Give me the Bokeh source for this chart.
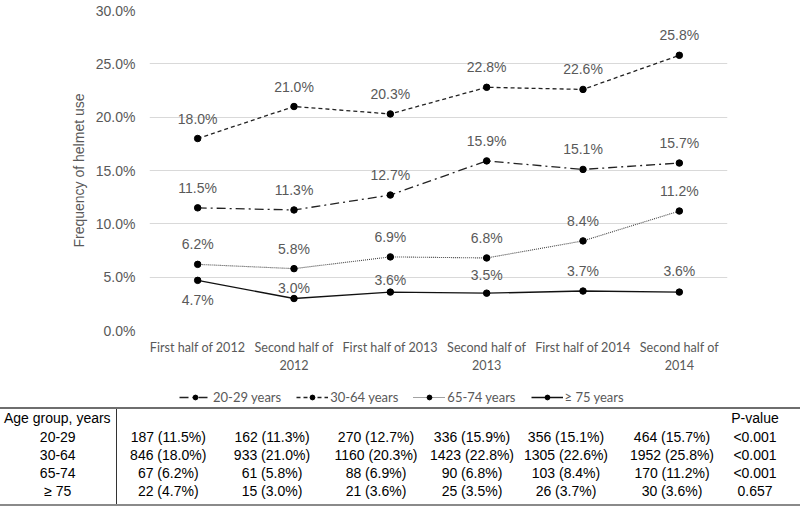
from bokeh.plotting import figure
from bokeh.models import (ColumnDataSource, Range1d, FactorRange, Legend, LegendItem,
                          PrintfTickFormatter, FixedTicker, Div)
from bokeh.layouts import column
from bokeh.embed import file_html
from bokeh.resources import INLINE
from bokeh.core.properties import value

# ---------------- data ----------------
periods = ["First half of 2012", "Second half of 2012", "First half of 2013",
           "Second half of 2013", "First half of 2014", "Second half of 2014"]
tick_line1 = ["First half of 2012", "Second half of", "First half of 2013",
              "Second half of", "First half of 2014", "Second half of"]
tick_line2 = ["", "2012", " ", "2013", "  ", "2014"]
groups = ["20-29", "30-64", "65-74", "≥ 75"]
legend_labels = ["20-29 years", "30-64 years", "65-74 years", "≥ 75 years"]

pct_20_29 = [11.5, 11.3, 12.7, 15.9, 15.1, 15.7]
pct_30_64 = [18.0, 21.0, 20.3, 22.8, 22.6, 25.8]
pct_65_74 = [6.2, 5.8, 6.9, 6.8, 8.4, 11.2]
pct_75 = [4.7, 3.0, 3.6, 3.5, 3.7, 3.6]

n_20_29 = [187, 162, 270, 336, 356, 464]
n_30_64 = [846, 933, 1160, 1423, 1305, 1952]
n_65_74 = [67, 61, 88, 90, 103, 170]
n_75 = [22, 15, 21, 25, 26, 30]

p_values = ["<0.001", "<0.001", "<0.001", "0.657"]
y_ticks = [0, 5, 10, 15, 20, 25, 30]

# ---------------- styles ----------------
GREY = "#595959"
W = 800
H1, H2, H3 = 384, 23, 106          # chart, legend strip, table
ML, MR, MT, FB = 149, 73, 10, 330  # frame margins / frame bottom (px)
MARKER = 6.5
line_styles = [
    dict(line_dash="9 4 2 4", line_color="#222222", line_width=1.3),
    dict(line_dash="4 3", line_color="#222222", line_width=1.3),
    dict(line_dash="1 1", line_color="#444444", line_width=1.1),
    dict(line_dash="solid", line_color="#111111", line_width=1.4),
]
label_offsets = [
    [-20] * 6,
    [-20] * 6,
    [-20] * 6,
    [20, -11, -12, -18, -20, -21],
]

all_pct = [pct_20_29, pct_30_64, pct_65_74, pct_75]
all_n = [n_20_29, n_30_64, n_65_74, n_75]
xf = list(zip(tick_line2, tick_line1))

# ---------------- chart ----------------
p = figure(width=W, height=H1,
           x_range=FactorRange(*xf, group_padding=0, factor_padding=0),
           y_range=Range1d(0, 30),
           output_backend="svg", toolbar_location=None,
           min_border_left=ML, min_border_right=MR, min_border_top=MT,
           min_border_bottom=H1 - FB)
p.outline_line_color = None
p.xgrid.grid_line_color = None
p.ygrid.grid_line_color = "#d9d9d9"
p.ygrid.grid_line_width = 1

p.yaxis.ticker = FixedTicker(ticks=y_ticks)
p.yaxis.formatter = PrintfTickFormatter(format="%.1f%%")
p.yaxis.axis_line_color = None
p.yaxis.major_tick_line_color = None
p.yaxis.major_tick_out = 0
p.yaxis.minor_tick_line_color = None
p.yaxis.minor_tick_out = 0
p.yaxis.major_label_text_font = "Liberation Sans"
p.yaxis.major_label_text_font_size = "14px"
p.yaxis.major_label_text_color = GREY
p.yaxis.major_label_standoff = 14
p.yaxis.axis_label = "Frequency of helmet use"
p.yaxis.axis_label_text_font = "Liberation Sans"
p.yaxis.axis_label_text_font_size = "14px"
p.yaxis.axis_label_text_font_style = "normal"
p.yaxis.axis_label_text_color = GREY
p.yaxis.axis_label_standoff = 6

xa = p.xaxis[0]
xa.axis_line_color = None
xa.major_tick_line_color = None
xa.major_tick_out = 9
xa.major_tick_in = 0
xa.minor_tick_line_color = None
xa.major_label_text_font = "Lato"
xa.major_label_text_font_size = "12.6px"
xa.major_label_text_color = GREY
xa.major_label_standoff = 0
xa.group_text_font = "Lato"
xa.group_text_font_size = "12.6px"
xa.group_text_font_style = "normal"
xa.group_text_color = GREY
xa.separator_line_color = None

for pct, style, offs in zip(all_pct, line_styles, label_offsets):
    src = ColumnDataSource(dict(x=xf, y=pct,
                                txt=[f"{v:.1f}%" for v in pct], yo=offs))
    p.line("x", "y", source=src, **style)
    p.scatter("x", "y", source=src, size=MARKER, color="black")
    p.text("x", "y", text="txt", source=src, y_offset="yo",
           text_align="center", text_baseline="middle",
           text_font=value("Liberation Sans"), text_font_size="14px", text_color=GREY)

# ---------------- legend strip ----------------
lg = figure(width=W, height=H2, x_range=Range1d(0, 1), y_range=Range1d(0, 1),
            output_backend="svg", toolbar_location=None, x_axis_type=None, y_axis_type=None,
            min_border_left=ML, min_border_right=MR, min_border_top=0, min_border_bottom=0)
lg.outline_line_color = None
lg.xgrid.grid_line_color = None
lg.ygrid.grid_line_color = None
nan = float("nan")
items = []
for style, lab in zip(line_styles, legend_labels):
    lr = lg.line(x=[nan], y=[nan], **style)
    sr = lg.scatter(x=[nan], y=[nan], size=MARKER, color="black")
    items.append(LegendItem(label=lab, renderers=[lr, sr]))
legend = Legend(items=items, orientation="horizontal", location=(30, 1),
                glyph_width=32, glyph_height=12, label_height=18,
                label_standoff=2, spacing=15, padding=1, margin=0,
                label_text_font="Lato", label_text_font_size="13px",
                label_text_color=GREY, border_line_color=None, background_fill_alpha=0)
lg.add_layout(legend, "center")

# ---------------- table (HTML) ----------------
col_widths = [116, 104, 104, 104, 88, 100, 112, 54, 18]
TB = "border-top:2px solid #6e6e6e;"
BB = "border-bottom:2px solid #8a8a8a;"
VR = "border-right:1.5px solid #333333;"
cell = "padding:0;height:18px;line-height:18px;white-space:nowrap;overflow:visible;"

rows_html = []
hdr = (f'<tr><td style="{cell}{TB}{VR}text-align:left;padding-left:4px;height:19px;line-height:19px;">Age group, years</td>'
       + "".join(f'<td style="{cell}{TB}height:19px;"></td>' for _ in periods)
       + f'<td style="{cell}{TB}text-align:center;height:19px;line-height:19px;">P-value</td>'
       + f'<td style="{cell}{TB}"></td></tr>')
rows_html.append(hdr)
for gi, (g, ns, pct, pv) in enumerate(zip(groups, all_n, all_pct, p_values)):
    last = gi == len(groups) - 1
    extra = (BB + "padding-bottom:4px;vertical-align:top;") if last else ""
    r = f'<tr><td style="{cell}{VR}{extra}text-align:center;">{g}</td>'
    for ci in range(len(periods)):
        r += f'<td style="{cell}{extra}text-align:center;">{ns[ci]} ({pct[ci]:.1f}%)</td>'
    r += f'<td style="{cell}{extra}text-align:center;">{pv.replace("<", "&lt;")}</td>'
    r += f'<td style="{cell}{extra}"></td></tr>'
    rows_html.append(r)

colgroup = "<colgroup>" + "".join(f'<col style="width:{w}px">' for w in col_widths) + "</colgroup>"
table_html = (f'<table style="border-collapse:collapse;table-layout:fixed;width:{W}px;'
              f'font-family:\'Liberation Sans\';font-size:14px;color:#000;margin:0;">'
              + colgroup + "".join(rows_html) + "</table>")

div = Div(text=table_html, width=W, height=H3, styles={"margin": "0", "padding": "0"})

layout = column(p, lg, div, spacing=0)
open("out.html", "w").write(file_html(layout, INLINE))
